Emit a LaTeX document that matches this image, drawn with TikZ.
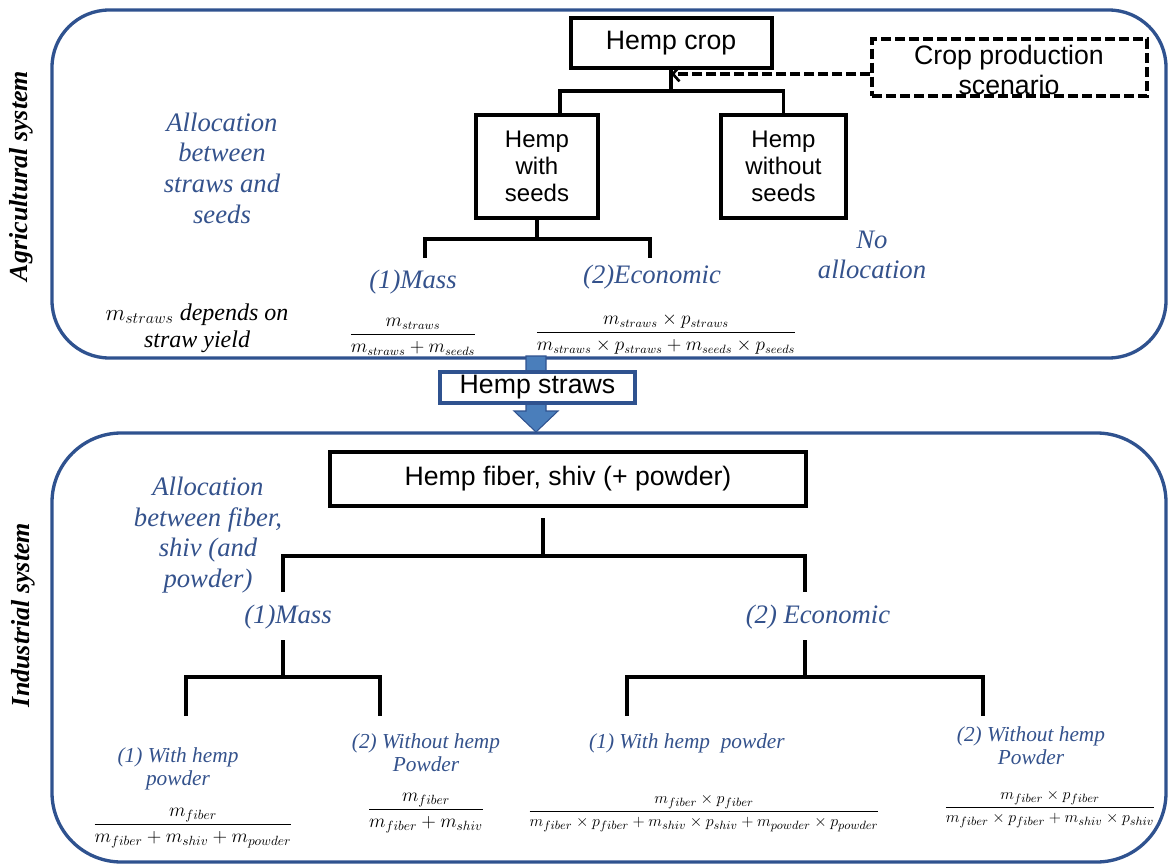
\documentclass[tikz,border=0pt]{standalone}
\usepackage{amsmath}
\usepackage{fontspec}
\setmainfont{Liberation Serif}
\setsansfont{Liberation Sans}
\usetikzlibrary{calc,arrows.meta}
\definecolor{frameblue}{RGB}{47,82,143}
\definecolor{labelblue}{RGB}{52,82,140}
\definecolor{arrowblue}{RGB}{74,126,187}

\begin{document}
\begin{tikzpicture}[x=0.75pt,y=-0.75pt,
  sysframe/.style={draw=frameblue,line width=2.5pt},
  itembox/.style={draw=black,line width=3pt,font=\sffamily\fontsize{20}{23}\selectfont,inner sep=0pt,align=center},
  smallbox/.style={itembox,font=\sffamily\fontsize{18}{20}\selectfont},
  dashbox/.style={draw=black,line width=2.7pt,dash pattern=on 7.5pt off 3pt},
  boxtext/.style={font=\sffamily\fontsize{20}{23}\selectfont,align=center,inner sep=0pt},
  alloc/.style={text=labelblue,font=\itshape\fontsize{20}{23}\selectfont,align=center,inner sep=0pt},
  case/.style={text=labelblue,font=\itshape\fontsize{16}{17.5}\selectfont,align=center,inner sep=0pt},
  note/.style={font=\itshape\fontsize{18}{20}\selectfont,align=center,inner sep=0pt},
  sysname/.style={font=\bfseries\itshape\fontsize{19.5}{22}\selectfont,rotate=90,inner sep=0pt},
  tree/.style={line width=2.6pt,black},
  formula/.style={inner sep=0pt},
]
\useasboundingbox (0,0) rectangle (1171,866);

% system frames
\draw[sysframe,rounded corners=43pt] (52,10) rectangle (1166,358);
\draw[sysframe,rounded corners=52pt] (52,433) rectangle (1166,862);

\node[sysname] (agname) at (21,176) {Agricultural system};
\node[sysname] (indname) at (23,615) {Industrial system};

% ---------- agricultural system ----------
\node[itembox,minimum width=150.75pt,minimum height=37.5pt] (hc) at (671,43) {Hemp crop};
\node[smallbox,minimum width=91.5pt,minimum height=77.25pt] (hws) at (537,166.5) {Hemp\\with\\seeds};
\node[smallbox,minimum width=93.75pt,minimum height=77.25pt] (hwos) at (783.5,166.5) {Hemp\\without\\seeds};
\node[dashbox,minimum width=206pt,minimum height=42.75pt] (cps) at (1009.5,67.5) {};
\node[boxtext] (cpstext) at (1009,70) {Crop production\\scenario};

\coordinate (tip) at (671,74);
\draw[line width=2.7pt,dash pattern=on 7.5pt off 3pt,-{Straight Barb[length=5pt,width=11pt,line width=2pt]}] (cps.west |- tip) -- (tip);

\coordinate (j0l) at (560,91);
\coordinate (j0r) at (783.5,91);
\draw[tree] (hc.south) -- (671,91);
\draw[tree] (j0l |- hws.north) -- (j0l) -- (j0r) -- (hwos.north);

\coordinate (m1) at (425,258);
\coordinate (e1) at (650,258);
\draw[tree] (hws.south) -- ++(0,19);
\draw[tree] (m1) |- ($(hws.south)+(0,19)$) -| (e1);

\node[alloc] (agalloc) at (222,168) {Allocation\\between\\straws and\\seeds};
\node[alloc] (mass1) at (413,282) {(1)Mass};
\node[alloc] (econ1) at (652,277) {(2)Economic};
\node[alloc] (noalloc) at (872,255) {No\\allocation};
\node[note] (yield) at (197,328) {$m_{straws}$ depends on\\straw yield};

\node[formula,font=\fontsize{13.5}{15}\selectfont] (fmass) at (413,337)
  {$\dfrac{m_{straws}}{m_{straws}+m_{seeds}}$};
\node[formula,font=\fontsize{13.5}{15}\selectfont] (fecon) at (666,334)
  {$\dfrac{m_{straws}\times p_{straws}}{m_{straws}\times p_{straws}+m_{seeds}\times p_{seeds}}$};

% ---------- transfer of straws ----------
\filldraw[fill=arrowblue,draw=frameblue,line width=0.8pt]
  (526,356) -- (546,356) -- (546,411) -- (558,411) -- (536,432) -- (514,411) -- (526,411) -- cycle;
\node[boxtext,draw=frameblue,fill=white,line width=2.8pt,minimum width=146.25pt,minimum height=23.25pt] (hs) at (537.5,387.5) {Hemp straws};

% ---------- industrial system ----------
\node[itembox,minimum width=357pt,minimum height=40.5pt] (hf) at (568,479) {Hemp fiber, shiv (+ powder)};

\coordinate (hfb) at (543,518);
\coordinate (l2) at (283,592);
\coordinate (r2) at (805,592);
\draw[tree] (hfb) -- ++(0,38);
\draw[tree] (l2) |- ($(hfb)+(0,38)$) -| (r2);

\node[alloc] (indalloc) at (208,535) {Allocation\\between fiber,\\shiv (and\\powder)};
\node[alloc] (mass2) at (288,617) {(1)Mass};
\node[alloc] (econ2) at (818,617) {(2) Economic};

\coordinate (l3) at (283,640);
\coordinate (r3) at (805,640);
\coordinate (l3a) at (186,716);
\coordinate (l3b) at (380,716);
\coordinate (r3a) at (627,716);
\coordinate (r3b) at (983,716);
\draw[tree] (l3) -- ++(0,37);
\draw[tree] (l3a) |- ($(l3)+(0,37)$) -| (l3b);
\draw[tree] (r3) -- ++(0,37);
\draw[tree] (r3a) |- ($(r3)+(0,37)$) -| (r3b);

\node[case] (mw) at (178,769) {(1) With hemp\\powder};
\node[case] (mwo) at (426,753) {(2) Without hemp\\Powder};
\node[case] (ew) at (687,743) {(1) With hemp\ \ powder};
\node[case] (ewo) at (1031,746) {(2) Without hemp\\Powder};

\node[formula,font=\fontsize{14}{16}\selectfont] (f1) at (193,828)
  {$\dfrac{m_{fiber}}{m_{fiber}+m_{shiv}+m_{powder}}$};
\node[formula,font=\fontsize{14}{16}\selectfont] (f2) at (426,813)
  {$\dfrac{m_{fiber}}{m_{fiber}+m_{shiv}}$};
\node[formula,font=\fontsize{12.5}{14}\selectfont] (f3) at (704,813)
  {$\dfrac{m_{fiber}\times p_{fiber}}{m_{fiber}\times p_{fiber}+m_{shiv}\times p_{shiv}+m_{powder}\times p_{powder}}$};
\node[formula,font=\fontsize{12.8}{14}\selectfont] (f4) at (1050,809)
  {$\dfrac{m_{fiber}\times p_{fiber}}{m_{fiber}\times p_{fiber}+m_{shiv}\times p_{shiv}}$};
\end{tikzpicture}
\end{document}
